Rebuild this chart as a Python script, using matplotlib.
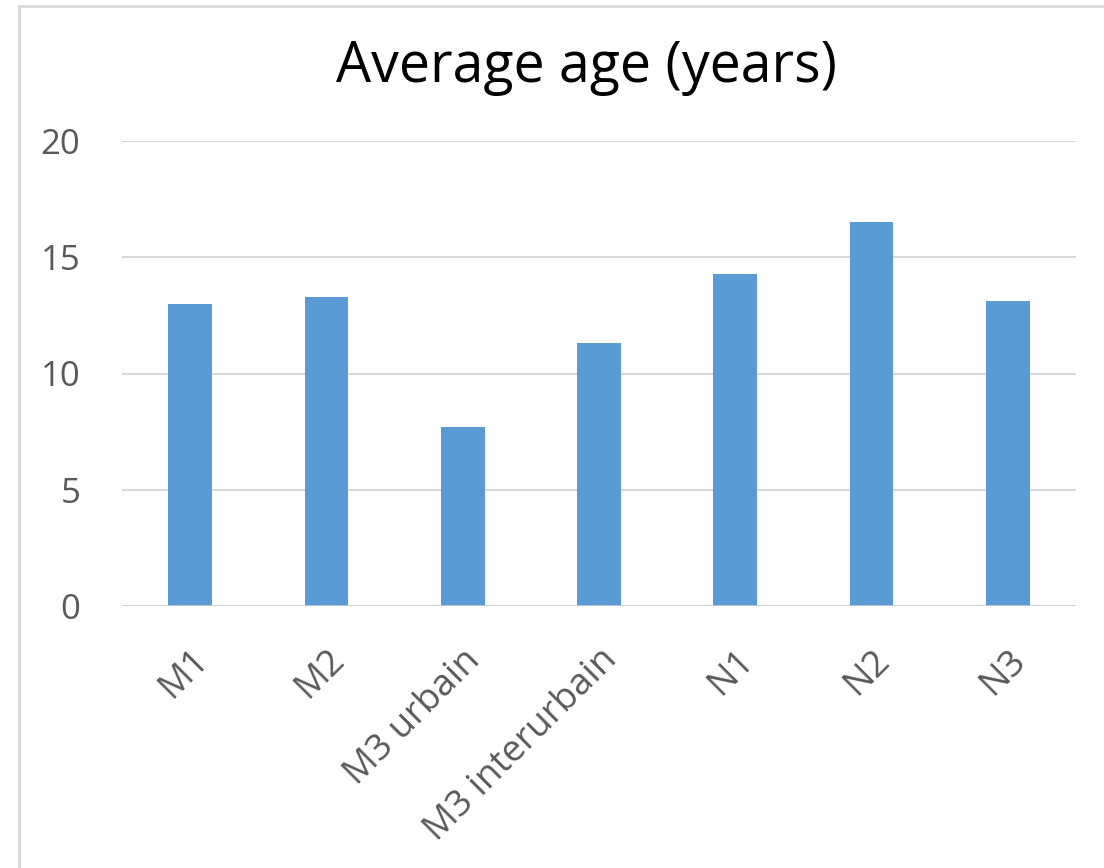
import matplotlib
matplotlib.use("Agg")
import matplotlib.pyplot as plt
from matplotlib.lines import Line2D

categories = ["M1", "M2", "M3 urbain", "M3 interurbain", "N1", "N2", "N3"]
avg_age = [13.0, 13.3, 7.7, 11.3, 14.3, 16.5, 13.1]
y_ticks = [0, 5, 10, 15, 20]

W, H = 1104, 868
plt.rcParams['font.family'] = ['Open Sans', 'DejaVu Sans']
text_color = "#595959"

fig = plt.figure(figsize=(W / 100, H / 100), dpi=100)
ax = fig.add_axes([122 / W, 1 - 606 / H, (1076 - 122) / W, (606 - 141) / H])

x = range(len(categories))
ax.bar(x, avg_age, width=0.32, color="#5B9BD5", zorder=3)

ax.set_xlim(-0.5, len(categories) - 0.5)
ax.set_ylim(0, 20)
ax.set_yticks(y_ticks)
ax.set_xticks(list(x))
ax.set_xticklabels(categories, rotation=45, ha="right", va="top",
                   rotation_mode="anchor")
ax.tick_params(axis="both", length=0, labelsize=25, colors=text_color)
ax.tick_params(axis="x", labelsize=26.5, pad=26)
ax.tick_params(axis="y", pad=30)
ax.yaxis.grid(True, color="#d9d9d9", linewidth=1.5, zorder=0)
for side in ["top", "right", "left", "bottom"]:
    ax.spines[side].set_visible(False)
ax.axhline(0, color="#d0d0d0", linewidth=1.8, zorder=4)

fig.text(587 / W, 1 - 68 / H, "Average age (years)", ha="center", va="center",
         fontsize=40, color="black")

# chart area frame
fig.add_artist(Line2D([19 / W, 19 / W], [0, 1 - 6 / H], color="#d9d9d9",
                      linewidth=2, transform=fig.transFigure))
fig.add_artist(Line2D([19 / W, 1], [1 - 6 / H, 1 - 6 / H], color="#d9d9d9",
                      linewidth=2, transform=fig.transFigure))

fig.savefig("out.png", dpi=100)
